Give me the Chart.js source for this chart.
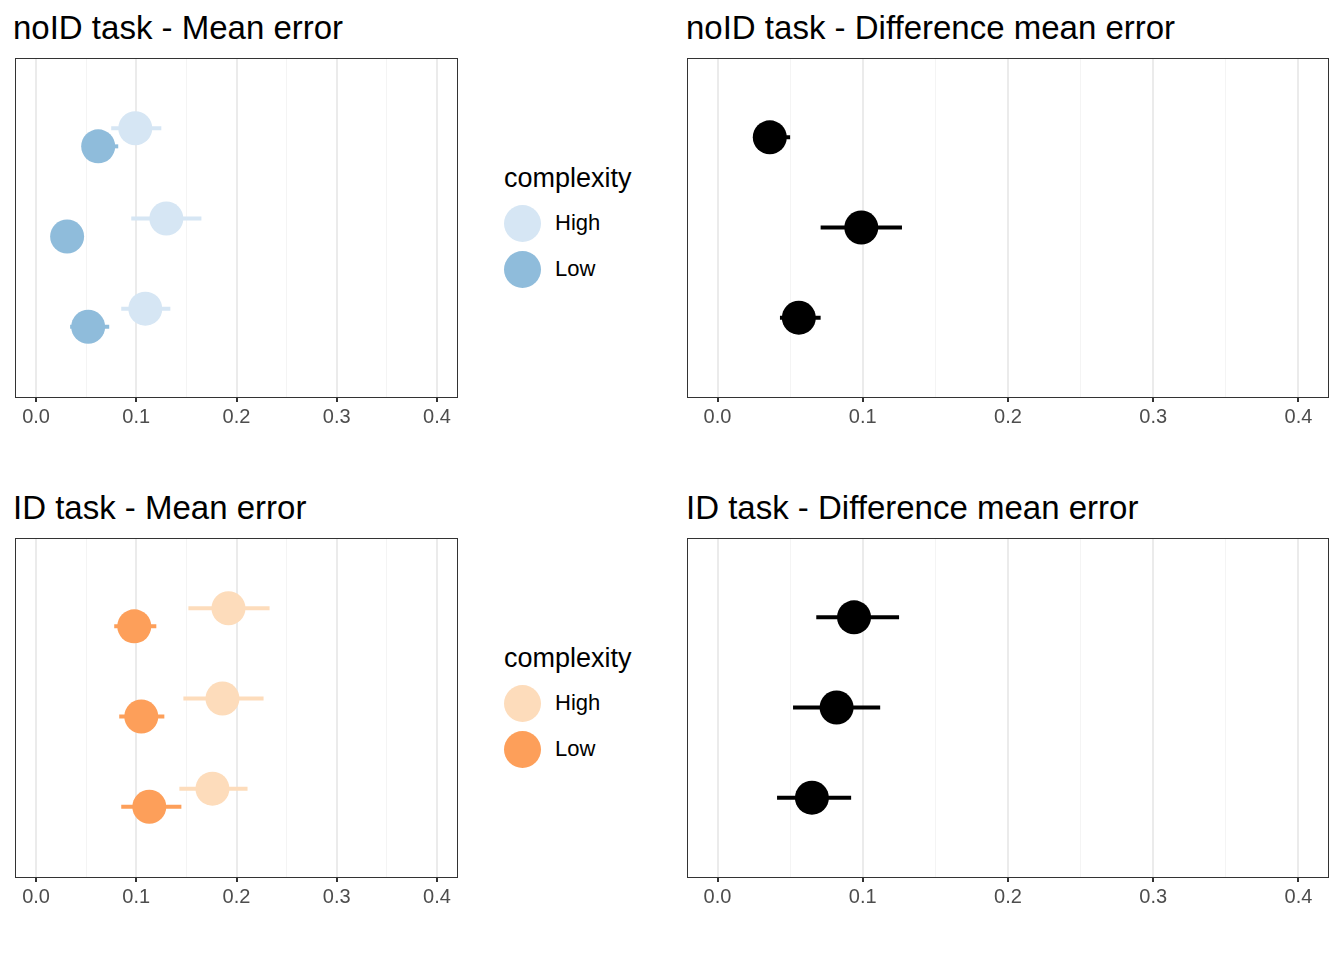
<!DOCTYPE html>
<html>
<head>
<meta charset="utf-8">
<script src="https://cdn.jsdelivr.net/npm/chart.js@4"></script>
<style>
  body { margin: 0; background: #fff; font-family: "Liberation Sans", Arial, sans-serif; }
  #wrap { position: relative; width: 1344px; height: 960px; }
  .title { position: absolute; font-size: 33px; line-height: 36px; color: #000; white-space: nowrap; }
  .box { position: absolute; }
  .legend { position: absolute; }
  .legend .head { font-size: 27px; line-height: 30px; color: #000; margin-bottom: 7px; }
  .legend .item { display: flex; align-items: center; height: 46px; font-size: 22px; }
  .legend .dot { width: 37px; height: 37px; border-radius: 50%; margin-right: 14px; }
</style>
</head>
<body>
<div id="wrap">
  <div class="title" style="left:13px;top:10px">noID task - Mean error</div>
  <div class="title" style="left:686px;top:10px">noID task - Difference mean error</div>
  <div class="title" style="left:13px;top:490px">ID task - Mean error</div>
  <div class="title" style="left:686px;top:490px">ID task - Difference mean error</div>
  <div class="box" style="left:15px;top:58px;width:443px;height:380px"><canvas id="c1"></canvas></div>
  <div class="box" style="left:687px;top:58px;width:642px;height:380px"><canvas id="c2"></canvas></div>
  <div class="box" style="left:15px;top:538px;width:443px;height:380px"><canvas id="c3"></canvas></div>
  <div class="box" style="left:687px;top:538px;width:642px;height:380px"><canvas id="c4"></canvas></div>
  <div class="legend" style="left:504px;top:163px">
    <div class="head">complexity</div>
    <div class="item"><span class="dot" style="background:#d6e6f4"></span>High</div>
    <div class="item"><span class="dot" style="background:#8fbcdb"></span>Low</div>
  </div>
  <div class="legend" style="left:504px;top:643px">
    <div class="head">complexity</div>
    <div class="item"><span class="dot" style="background:#fddcbb"></span>High</div>
    <div class="item"><span class="dot" style="background:#fd9f5a"></span>Low</div>
  </div>
</div>
<script>
// group positions (top to bottom = 3,2,1)
const groups = [3, 2, 1];
const tickValues = [0, 0.05, 0.1, 0.15, 0.2, 0.25, 0.3, 0.35, 0.4];

// noID mean error
const noidHigh = [0.099, 0.130, 0.109];
const noidHighLo = [0.075, 0.095, 0.085];
const noidHighHi = [0.125, 0.165, 0.134];
const noidLow = [0.062, 0.031, 0.052];
const noidLowLo = [0.058, 0.029, 0.034];
const noidLowHi = [0.082, 0.034, 0.073];
// noID difference
const noidDiff = [0.036, 0.099, 0.056];
const noidDiffLo = [0.025, 0.071, 0.043];
const noidDiffHi = [0.050, 0.127, 0.071];
// ID mean error
const idHigh = [0.192, 0.186, 0.176];
const idHighLo = [0.152, 0.147, 0.143];
const idHighHi = [0.233, 0.227, 0.211];
const idLow = [0.098, 0.105, 0.113];
const idLowLo = [0.078, 0.083, 0.085];
const idLowHi = [0.120, 0.128, 0.145];
// ID difference
const idDiff = [0.094, 0.082, 0.065];
const idDiffLo = [0.068, 0.052, 0.041];
const idDiffHi = [0.125, 0.112, 0.092];

function pts(vals, lo, hi, off) {
  return vals.map((v, i) => ({ x: v, y: groups[i] + off, lo: lo[i], hi: hi[i] }));
}

const errorBars = {
  id: 'errorBars',
  beforeDatasetDraw(chart, args) {
    const ds = chart.data.datasets[args.index];
    const ctx = chart.ctx, xs = chart.scales.x, ys = chart.scales.y;
    ctx.save();
    ctx.strokeStyle = ds.backgroundColor;
    ctx.lineWidth = 4;
    ds.data.forEach(p => {
      const y = ys.getPixelForValue(p.y);
      ctx.beginPath();
      ctx.moveTo(xs.getPixelForValue(p.lo), y);
      ctx.lineTo(xs.getPixelForValue(p.hi), y);
      ctx.stroke();
    });
    ctx.restore();
  },
  afterDraw(chart) {
    const a = chart.chartArea, ctx = chart.ctx;
    ctx.save();
    ctx.strokeStyle = '#333';
    ctx.lineWidth = 1;
    ctx.strokeRect(a.left + 0.5, a.top + 0.5, a.right - a.left - 1, a.bottom - a.top);
    ctx.restore();
  }
};

function isMajor(v) { return Math.abs(v * 10 - Math.round(v * 10)) < 1e-6; }

function makeChart(id, datasets) {
  new Chart(document.getElementById(id), {
    type: 'scatter',
    data: { datasets },
    plugins: [errorBars],
    options: {
      responsive: true,
      maintainAspectRatio: false,
      animation: false,
      layout: { padding: 0, autoPadding: false },
      plugins: { legend: { display: false }, tooltip: { enabled: false } },
      scales: {
        x: {
          min: -0.021, max: 0.421,
          afterBuildTicks(s) { s.ticks = tickValues.map(v => ({ value: v })); },
          afterFit(s) { s.height = 41; },
          border: { display: false },
          grid: {
            color: c => isMajor(c.tick.value) ? '#ebebeb' : '#f4f4f4',
            lineWidth: c => isMajor(c.tick.value) ? 2 : 1,
            tickColor: c => isMajor(c.tick.value) ? '#333' : 'rgba(0,0,0,0)',
            tickLength: 5
          },
          ticks: {
            color: '#4d4d4d',
            font: { size: 20, family: 'Liberation Sans' },
            padding: 3,
            maxRotation: 0,
            autoSkip: false,
            callback: v => isMajor(v) ? v.toFixed(1) : ''
          }
        },
        y: { display: false, min: 0.12, max: 3.88 }
      }
    }
  });
}

const pr = 17;
makeChart('c1', [
  { data: pts(noidHigh, noidHighLo, noidHighHi, 0.1), backgroundColor: '#d6e6f4', pointRadius: pr, borderWidth: 0 },
  { data: pts(noidLow, noidLowLo, noidLowHi, -0.1), backgroundColor: '#8fbcdb', pointRadius: pr, borderWidth: 0 }
]);
makeChart('c2', [
  { data: pts(noidDiff, noidDiffLo, noidDiffHi, 0), backgroundColor: '#000', pointRadius: pr, borderWidth: 0 }
]);
makeChart('c3', [
  { data: pts(idHigh, idHighLo, idHighHi, 0.1), backgroundColor: '#fddcbb', pointRadius: pr, borderWidth: 0 },
  { data: pts(idLow, idLowLo, idLowHi, -0.1), backgroundColor: '#fd9f5a', pointRadius: pr, borderWidth: 0 }
]);
makeChart('c4', [
  { data: pts(idDiff, idDiffLo, idDiffHi, 0), backgroundColor: '#000', pointRadius: pr, borderWidth: 0 }
]);
</script>
</body>
</html>
